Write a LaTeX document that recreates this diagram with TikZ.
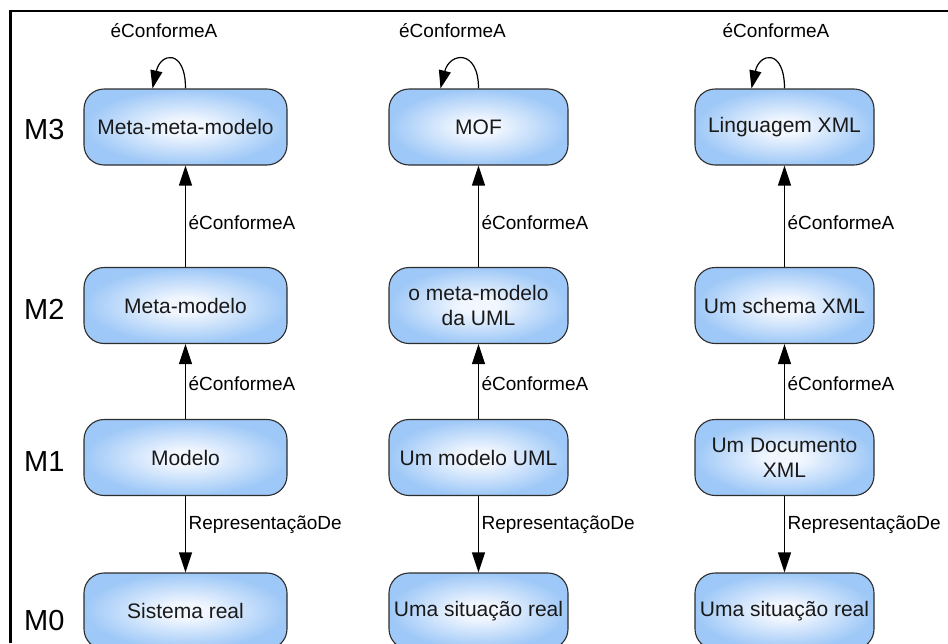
\documentclass[tikz,border=0pt]{standalone}
\usepackage{fontspec}
\setmainfont{Liberation Sans}
\usetikzlibrary{arrows.meta}

\definecolor{boxblue}{RGB}{158,200,247}
\definecolor{boxcore}{RGB}{242,247,255}
\definecolor{boxline}{RGB}{45,45,45}

% soft glow: pale core fading to light blue towards the border
\pgfdeclareradialshading{boxglow}{\pgfpoint{0bp}{0bp}}{%
  color(0bp)=(boxcore); color(5bp)=(boxcore); color(25bp)=(boxblue); color(50bp)=(boxblue)}

\begin{document}
\begin{tikzpicture}[x=1pt,y=-1pt,
  level/.style={draw=boxline, line width=1.1pt, rounded corners=20pt,
    shading=boxglow, minimum height=76pt, align=center,
    font=\fontsize{21}{25}\selectfont, text=black!90},
  wide/.style={minimum width=203pt},
  narrow/.style={minimum width=179pt},
  tier/.style={font=\fontsize{29}{32}\selectfont, inner sep=0pt, anchor=west},
  tag/.style={font=\fontsize{19}{22}\selectfont, inner sep=0pt},
  sidetag/.style={tag, anchor=west, xshift=2.5pt},
  link/.style={line width=1.2pt, -{Triangle[length=20pt,width=13pt]}},
  selfloop/.style={line width=1.2pt, -{Triangle[length=18pt,width=12pt]}}]

\useasboundingbox (0,0) rectangle (948,643);

% frame (top and left edges)
\draw[line width=2.6pt] (10.5,643) -- (10.5,11) -- (948,11);

% level names
\node[tier] (m3) at (24,130) {M3};
\node[tier] (m2) at (24,309.5) {M2};
\node[tier] (m1) at (24,462) {M1};
\node[tier] (m0) at (24,621) {M0};

% generic column
\node[level,wide] (a3) at (185.5,127)   {Meta-meta-modelo};
\node[level,wide] (a2) at (185.5,305.5) {Meta-modelo};
\node[level,wide] (a1) at (185.5,457.5) {Modelo};
\node[level,wide] (a0) at (185.5,611)   {Sistema real};

% UML column
\node[level,narrow] (b3) at (478.5,127)   {MOF};
\node[level,narrow] (b2) at (478.5,305.5) {o meta-modelo\\da UML};
\node[level,narrow] (b1) at (478.5,457.5) {Um modelo UML};
\node[level,narrow] (b0) at (478.5,611)   {Uma situação real};

% XML column
\node[level,narrow] (c3) at (784.5,127)   {Linguagem XML};
\node[level,narrow] (c2) at (784.5,305.5) {Um schema XML};
\node[level,narrow] (c1) at (784.5,457.5) {Um Documento\\XML};
\node[level,narrow] (c0) at (784.5,611)   {Uma situação real};

% conformance and representation links
\foreach \col in {a,b,c}{
  \draw[link] (\col2.north) -- node[sidetag,pos=0.44] {éConformeA} (\col3.south);
  \draw[link] (\col1.north) -- node[sidetag,pos=0.47] {éConformeA} (\col2.south);
  \draw[link] (\col1.south) -- node[sidetag,pos=0.38] {RepresentaçãoDe} (\col0.north);
}

% self-conformance loops on the top level
\draw[selfloop] (a3.north) .. controls +(0,-40) and +(8,-36) .. ([xshift=-33pt]a3.north);
\draw[selfloop] (b3.north) .. controls +(0,-40) and +(9,-36) .. ([xshift=-38pt]b3.north);
\draw[selfloop] (c3.north) .. controls +(0,-40) and +(8,-36) .. ([xshift=-33pt]c3.north);

\node[tag] (ta) at (164,30.5) {éConformeA};
\node[tag] (tb) at (452.5,30.5) {éConformeA};
\node[tag] (tc) at (776,30.5) {éConformeA};

\end{tikzpicture}
\end{document}
